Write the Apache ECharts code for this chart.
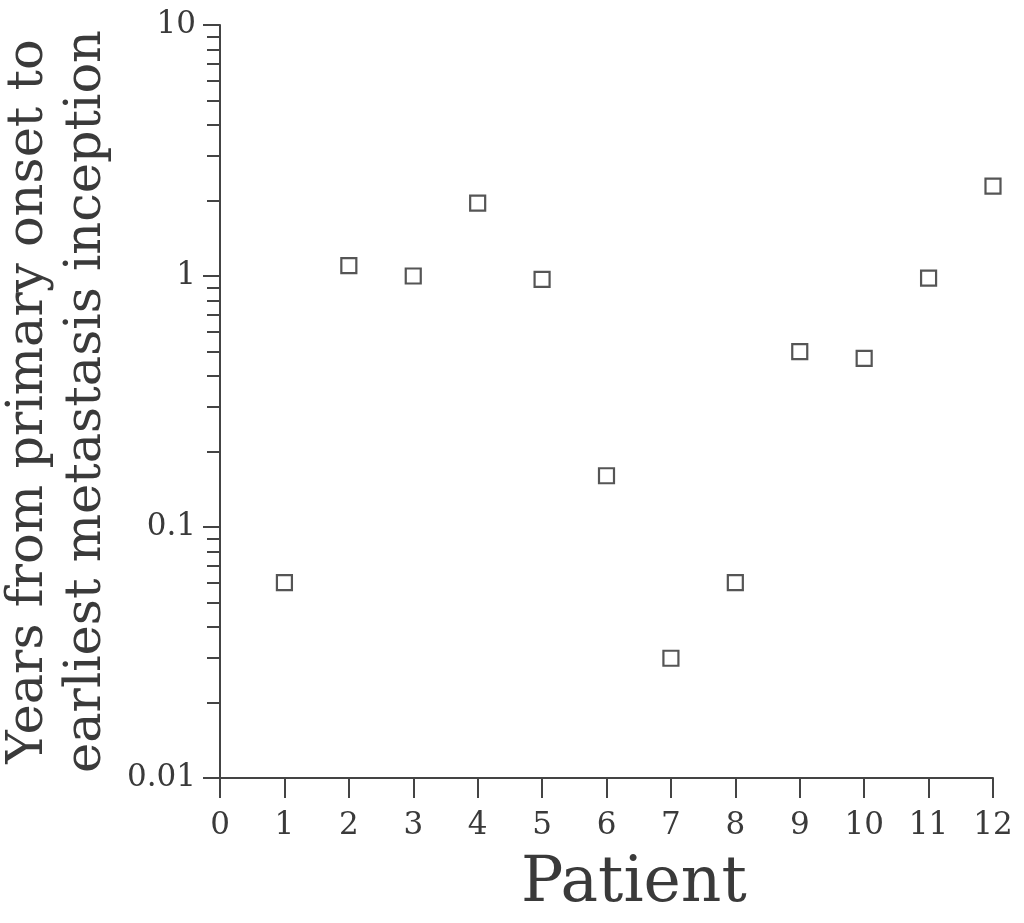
<!DOCTYPE html>
<html>
<head>
<meta charset="utf-8">
<script src="https://cdn.jsdelivr.net/npm/echarts@6/dist/echarts.min.js"></script>
<style>html,body{margin:0;padding:0;background:#fff}#c{width:1024px;height:923px}</style>
</head>
<body>
<div id="c"></div>
<script>
// Data
const patients = [1, 2, 3, 4, 5, 6, 7, 8, 9, 10, 11, 12];
const yearsToMetastasis = [0.06, 1.10, 1.0, 1.95, 0.97, 0.16, 0.03, 0.06, 0.50, 0.47, 0.98, 2.28];
const yTickLabels = ['0.01', '0.1', '1', '10'];
const xTickLabels = ['0','1','2','3','4','5','6','7','8','9','10','11','12'];
const xAxisTitle = 'Patient';
const yAxisTitle = ['Years from primary onset to', 'earliest metastasis inception'];

const FONT = 'DejaVu Serif';
const INK = '#3a3a3a';
const LINE = '#444';

const chart = echarts.init(document.getElementById('c'), null, {renderer: 'canvas'});
chart.setOption({
  animation: false,
  backgroundColor: '#fff',
  title: {
    text: xAxisTitle,
    left: 516,
    top: 848,
    textStyle: {fontFamily: FONT, fontSize: 63, fontWeight: 'normal', color: INK}
  },
  grid: {left: 220, right: 31, top: 25, bottom: 145, containLabel: false, outerBoundsMode: 'none'},
  xAxis: {
    type: 'value',
    min: 0, max: 12, interval: 1,
    splitLine: {show: false},
    axisLine: {show: true, onZero: false, lineStyle: {color: LINE, width: 2}},
    axisTick: {show: true, length: 20, lineStyle: {color: LINE, width: 2}},
    axisLabel: {
      margin: 32, fontFamily: FONT, fontSize: 31, color: INK,
      formatter: v => xTickLabels[Math.round(v)]
    }
  },
  yAxis: {
    type: 'log',
    logBase: 10,
    min: 0.01, max: 10,
    name: yAxisTitle.join('\n'),
    nameLocation: 'middle',
    nameGap: 95,
    nameTextStyle: {fontFamily: FONT, fontSize: 51, lineHeight: 58, color: INK},
    splitLine: {show: false},
    axisLine: {show: true, onZero: false, lineStyle: {color: LINE, width: 2}},
    axisTick: {show: true, length: 17, lineStyle: {color: LINE, width: 2}},
    minorTick: {show: true, splitNumber: 9, length: 13, lineStyle: {color: LINE, width: 2}},
    axisLabel: {
      margin: 24, fontFamily: FONT, fontSize: 31, color: INK,
      formatter: v => {
        const i = Math.round(Math.log10(v)) + 2;
        return yTickLabels[i];
      }
    }
  },
  series: [{
    type: 'scatter',
    data: patients.map((p, i) => [p, yearsToMetastasis[i]]),
    symbol: 'rect',
    symbolSize: 15,
    itemStyle: {color: '#fff', borderColor: '#555', borderWidth: 2.2, opacity: 1},
    clip: false
  }]
});
</script>
</body>
</html>
